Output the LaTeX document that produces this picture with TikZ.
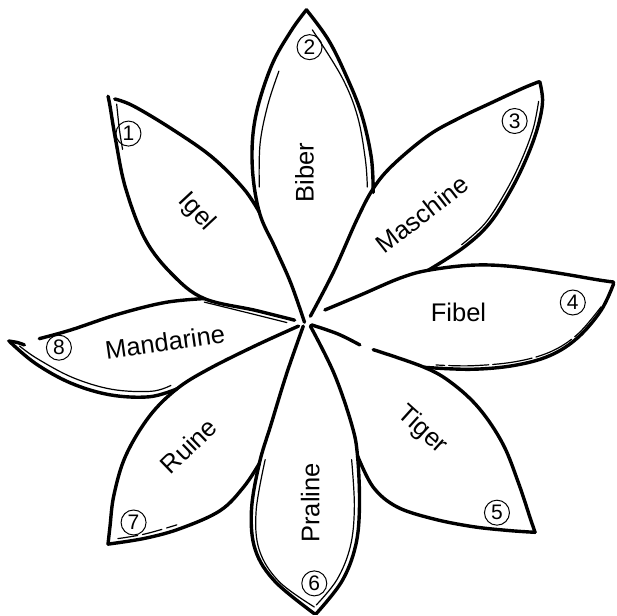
\documentclass[tikz,border=0pt]{standalone}
\usepackage{fontspec}
\setmainfont{Liberation Sans}
\begin{document}
\begin{tikzpicture}[x=0.392857pt,y=-0.392857pt,
  edge/.style={line width=3.4pt,line cap=round,line join=round},
  inner/.style={line width=1.2pt,line cap=round},
  lbl/.style={font=\fontsize{25.5}{28}\selectfont,inner sep=0pt},
  num/.style={circle,draw,line width=1pt,minimum size=25pt,inner sep=0pt,font=\fontsize{21}{22}\selectfont}]
\useasboundingbox (0,0) rectangle (1568,1568);
\def\sm{plot[smooth,tension=0.6] coordinates}
% Biber
\draw[edge] \sm{(775,820) (740,720) (700,630) (660,540) (642,420) (650,300) (690,170) (740,80) (780,25)};
\draw[edge] \sm{(780,25) (835,100) (880,190) (920,290) (945,400) (950,490)};
\draw[inner,shift={(10,6)}] \sm{(700,175) (672,260) (652,360) (650,470)};
\draw[inner,shift={(-10,6)}] \sm{(805,70) (880,190) (920,290) (940,400) (945,470)};
% Igel
\draw[edge] \sm{(660,540) (620,480) (540,400) (440,330) (340,270) (292,252)};
\draw[edge] \sm{(750,815) (650,790) (520,760) (440,700) (370,610) (320,480) (295,360) (280,270) (275,245)};
\draw[inner,shift={(0,9)}] \sm{(520,760) (650,792) (730,812)};
\draw[inner,shift={(12,0)}] \sm{(285,265) (292,330) (300,380)};
% Maschine
\draw[edge] \sm{(790,805) (850,690) (908,560) (950,480) (1000,420) (1090,345) (1170,300) (1250,262) (1330,225) (1372,208)};
\draw[edge] \sm{(1374,208) (1381,260) (1367,330) (1337,410) (1297,490) (1245,570) (1180,630) (1090,688)};
\draw[inner,shift={(-10,-2)}] \sm{(1381,260) (1367,330) (1337,410) (1297,490) (1245,570) (1185,625)};
% Fibel
\draw[edge] \sm{(827,789) (920,750) (1018,708) (1090,688) (1200,675) (1300,678) (1420,695) (1520,712) (1562,718)};
\draw[edge] \sm{(1562,722) (1530,790) (1470,860) (1400,905) (1310,930) (1200,940) (1080,935)};
\draw[inner,dashed,dash pattern=on 40pt off 4pt,shift={(0,-9)}] \sm{(1530,790) (1470,860) (1400,905) (1310,930) (1200,940) (1110,938)};
% Tiger
\draw[edge] \sm{(793,827) (860,850) (916,878)};
\draw[edge] \sm{(950,890) (1080,935) (1150,975) (1220,1040) (1280,1130) (1320,1230) (1350,1320) (1362,1355)};
\draw[edge] \sm{(910,1160) (950,1240) (1010,1290) (1100,1320) (1200,1340) (1290,1350) (1362,1355)};
% Praline
\draw[edge] \sm{(790,830) (850,950) (895,1080) (910,1160) (915,1290) (905,1390) (870,1480) (805,1562)};
\draw[edge] \sm{(772,830) (730,950) (690,1080) (660,1180) (640,1300) (650,1400) (700,1480) (800,1562)};
\draw[inner,shift={(-10,0)}] \sm{(905,1170) (912,1290) (902,1390) (868,1475) (815,1540)};
\draw[inner,shift={(10,0)}] \sm{(665,1170) (642,1300) (650,1400) (700,1480) (790,1545)};
% Ruine
\draw[edge] \sm{(660,1180) (620,1240) (560,1300) (460,1345) (370,1370) (275,1385)};
\draw[edge] \sm{(760,830) (650,880) (530,940) (450,990) (380,1060) (320,1160) (290,1260) (280,1340) (275,1385)};
\draw[inner,dashed,dash pattern=on 20pt off 5pt,shift={(0,-9)}] \sm{(300,1380) (370,1368) (450,1345)};
% Mandarine
\draw[edge] \sm{(450,990) (380,1010) (280,1005) (180,975) (90,925) (25,870)};
\draw[edge] \sm{(100,862) (180,840) (300,800) (420,770) (520,760)};
\draw[edge] \sm{(22,868) (45,872) (62,878)};
\draw[inner,shift={(5,-9)}] \sm{(430,990) (380,1005) (280,1000) (180,970) (90,922) (45,890)};
% labels
\node[lbl,rotate=-47] (igel) at (500,540) {Igel};
\node[lbl,rotate=90] (biber) at (775,440) {Biber};
\node[lbl,rotate=38] (maschine) at (1075,545) {Maschine};
\node[lbl] (fibel) at (1167,795) {Fibel};
\node[lbl,rotate=-42] (tiger) at (1075,1095) {Tiger};
\node[lbl,rotate=90] (praline) at (790,1280) {Praline};
\node[lbl,rotate=44] (ruine) at (480,1135) {Ruine};
\node[lbl,rotate=8] (mandarine) at (420,870) {Mandarine};
% numbers
\node[num] (n1) at (327,340) {1};
\node[num] (n2) at (788,120) {2};
\node[num] (n3) at (1310,308) {3};
\node[num] (n4) at (1458,770) {4};
\node[num] (n5) at (1265,1305) {5};
\node[num] (n6) at (800,1485) {6};
\node[num] (n7) at (340,1330) {7};
\node[num] (n8) at (150,885) {8};
\end{tikzpicture}
\end{document}
